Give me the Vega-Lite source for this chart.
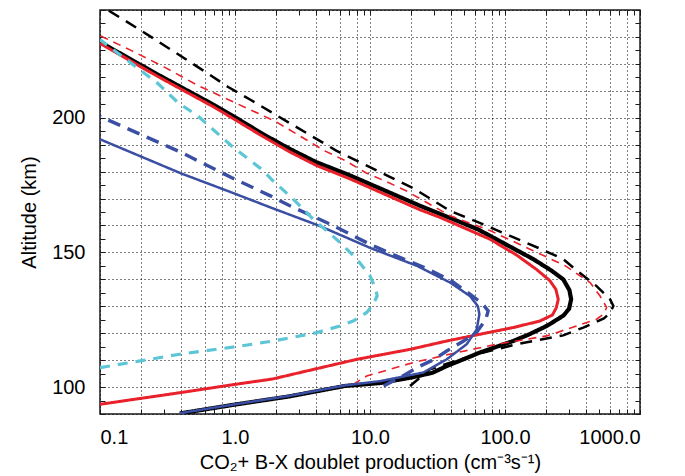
{
  "$schema": "https://vega.github.io/schema/vega-lite/v6.json",
  "autosize": {"type": "none"},
  "padding": {"left": 100, "top": 10, "right": 45, "bottom": 62},
  "width": 540,
  "height": 404,
  "background": "white",
  "config": {
    "view": {"stroke": "#1a1a1a", "strokeWidth": 1.5},
    "axis": {
      "labelFont": "Liberation Sans", "labelFontSize": 20, "labelColor": "black",
      "titleFont": "Liberation Sans", "titleFontSize": 20, "titleFontWeight": "normal", "titleColor": "black",
      "domain": false, "tickColor": "#1a1a1a", "tickWidth": 1
    }
  },
  "data": {"values": [
    {"s":"k","x":0.1,"alt":228.1},{"s":"k","x":0.264,"alt":216.2},{"s":"k","x":0.707,"alt":204.6},{"s":"k","x":1.0,"alt":200.2},{"s":"k","x":1.6,"alt":194},{"s":"k","x":2.55,"alt":188.4},{"s":"k","x":4.0,"alt":183.5},{"s":"k","x":7.1,"alt":178.6},{"s":"k","x":23.5,"alt":167.3},{"s":"k","x":62.8,"alt":158.6},{"s":"k","x":103,"alt":152.8},{"s":"k","x":162,"alt":147.5},{"s":"k","x":220,"alt":143.3},{"s":"k","x":270,"alt":140},{"s":"k","x":300,"alt":136},{"s":"k","x":309,"alt":132.6},{"s":"k","x":298,"alt":129},{"s":"k","x":270,"alt":126.5},{"s":"k","x":230,"alt":124.3},{"s":"k","x":204,"alt":122.7},{"s":"k","x":150,"alt":119.5},{"s":"k","x":115,"alt":117.1},{"s":"k","x":65,"alt":112.8},{"s":"k","x":45,"alt":109.5},{"s":"k","x":37,"alt":107.8},{"s":"k","x":29,"alt":105.3},{"s":"k","x":20,"alt":103.5},{"s":"k","x":11.9,"alt":101.5},{"s":"k","x":6.5,"alt":100.4},{"s":"k","x":2.5,"alt":96.5},{"s":"k","x":1.0,"alt":93.5},{"s":"k","x":0.39,"alt":90.2},
    {"s":"r","x":0.1,"alt":227.6},{"s":"r","x":0.264,"alt":215.5},{"s":"r","x":0.707,"alt":203.8},{"s":"r","x":1.0,"alt":199.3},{"s":"r","x":1.6,"alt":193.1},{"s":"r","x":2.55,"alt":187.3},{"s":"r","x":4.0,"alt":182.3},{"s":"r","x":7.1,"alt":177.3},{"s":"r","x":23.5,"alt":165.8},{"s":"r","x":33,"alt":163},{"s":"r","x":77.4,"alt":154.9},{"s":"r","x":122,"alt":149},{"s":"r","x":171,"alt":143.7},{"s":"r","x":215,"alt":139.5},{"s":"r","x":238,"alt":136.3},{"s":"r","x":248,"alt":132.6},{"s":"r","x":240,"alt":129.5},{"s":"r","x":225,"alt":126.8},{"s":"r","x":181,"alt":124.5},{"s":"r","x":115,"alt":122.1},{"s":"r","x":65,"alt":119.6},{"s":"r","x":37,"alt":117.1},{"s":"r","x":19.8,"alt":114},{"s":"r","x":8,"alt":110.3},{"s":"r","x":4,"alt":106.8},{"s":"r","x":1.9,"alt":103},{"s":"r","x":1.0,"alt":101},{"s":"r","x":0.39,"alt":97.9},{"s":"r","x":0.1,"alt":93.6},
    {"s":"kd","x":0.115,"alt":239.9},{"s":"kd","x":0.191,"alt":233.1},{"s":"kd","x":0.357,"alt":224.4},{"s":"kd","x":0.63,"alt":216.4},{"s":"kd","x":0.89,"alt":211.4},{"s":"kd","x":1.32,"alt":206.5},{"s":"kd","x":2.0,"alt":201.1},{"s":"kd","x":5.66,"alt":187.7},{"s":"kd","x":9.2,"alt":182.5},{"s":"kd","x":13.9,"alt":178.1},{"s":"kd","x":21,"alt":173.8},{"s":"kd","x":39.2,"alt":165.4},{"s":"kd","x":73,"alt":159.9},{"s":"kd","x":109,"alt":156.1},{"s":"kd","x":180,"alt":151.5},{"s":"kd","x":270,"alt":147.5},{"s":"kd","x":340,"alt":143.3},{"s":"kd","x":477,"alt":137.5},{"s":"kd","x":600,"alt":132.6},{"s":"kd","x":635,"alt":130.1},{"s":"kd","x":600,"alt":127.5},{"s":"kd","x":540,"alt":125.5},{"s":"kd","x":380,"alt":122.1},{"s":"kd","x":270,"alt":119.2},{"s":"kd","x":122,"alt":115.9},{"s":"kd","x":61.7,"alt":112.2},{"s":"kd","x":27.8,"alt":106.6},{"s":"kd","x":19.8,"alt":100.4},
    {"s":"rd","x":0.1,"alt":230.5},{"s":"rd","x":0.17,"alt":225},{"s":"rd","x":0.3,"alt":218.8},{"s":"rd","x":0.53,"alt":212},{"s":"rd","x":0.94,"alt":206.2},{"s":"rd","x":2.0,"alt":198.6},{"s":"rd","x":4.7,"alt":187.5},{"s":"rd","x":6.6,"alt":184},{"s":"rd","x":9.3,"alt":179.6},{"s":"rd","x":13.2,"alt":176.3},{"s":"rd","x":18.5,"alt":172.9},{"s":"rd","x":39.2,"alt":163.6},{"s":"rd","x":77.4,"alt":158.1},{"s":"rd","x":153,"alt":151.2},{"s":"rd","x":280,"alt":145},{"s":"rd","x":427,"alt":138.8},{"s":"rd","x":506,"alt":133.8},{"s":"rd","x":566,"alt":129.5},{"s":"rd","x":535,"alt":127},{"s":"rd","x":477,"alt":125.2},{"s":"rd","x":330,"alt":122.5},{"s":"rd","x":204,"alt":119},{"s":"rd","x":86.9,"alt":115.9},{"s":"rd","x":43.9,"alt":112.8},{"s":"rd","x":20.9,"alt":109.1},{"s":"rd","x":9.46,"alt":104.1},{"s":"rd","x":7.5,"alt":101},
    {"s":"b","x":0.1,"alt":192},{"s":"b","x":0.4,"alt":179.3},{"s":"b","x":0.94,"alt":172.3},{"s":"b","x":1.83,"alt":166.7},{"s":"b","x":4.2,"alt":159.9},{"s":"b","x":10,"alt":151.7},{"s":"b","x":22.3,"alt":145},{"s":"b","x":39.2,"alt":138.8},{"s":"b","x":55,"alt":133.8},{"s":"b","x":63,"alt":130},{"s":"b","x":64.6,"alt":127},{"s":"b","x":61.7,"alt":121.4},{"s":"b","x":52,"alt":115.9},{"s":"b","x":37,"alt":110.3},{"s":"b","x":24.8,"alt":105.4},{"s":"b","x":11.9,"alt":102.2},{"s":"b","x":6.5,"alt":100.6},{"s":"b","x":2.5,"alt":96.7},{"s":"b","x":1.0,"alt":93.6},{"s":"b","x":0.39,"alt":90.3},
    {"s":"bd","x":0.1,"alt":200.5},{"s":"bd","x":0.4,"alt":187.1},{"s":"bd","x":0.94,"alt":177.8},{"s":"bd","x":1.83,"alt":171},{"s":"bd","x":2.55,"alt":167.3},{"s":"bd","x":5.06,"alt":160.5},{"s":"bd","x":7.1,"alt":156.8},{"s":"bd","x":10,"alt":153},{"s":"bd","x":17.8,"alt":147.5},{"s":"bd","x":25,"alt":144.5},{"s":"bd","x":40,"alt":139.5},{"s":"bd","x":55,"alt":134.5},{"s":"bd","x":68,"alt":131},{"s":"bd","x":75,"alt":128.3},{"s":"bd","x":72,"alt":125},{"s":"bd","x":62,"alt":120.5},{"s":"bd","x":49,"alt":117},{"s":"bd","x":37,"alt":113.4},{"s":"bd","x":30,"alt":110.3},{"s":"bd","x":23.5,"alt":107.8},{"s":"bd","x":18,"alt":104.5},{"s":"bd","x":12.6,"alt":100.4},
    {"s":"c","x":0.1,"alt":229},{"s":"c","x":0.2,"alt":217.6},{"s":"c","x":0.27,"alt":212.6},{"s":"c","x":0.38,"alt":205.5},{"s":"c","x":0.53,"alt":200.7},{"s":"c","x":0.94,"alt":189.6},{"s":"c","x":1.57,"alt":180.9},{"s":"c","x":1.92,"alt":176.5},{"s":"c","x":2.7,"alt":169.8},{"s":"c","x":3.8,"alt":162.3},{"s":"c","x":6.0,"alt":153.7},{"s":"c","x":8.0,"alt":147.5},{"s":"c","x":10,"alt":141.3},{"s":"c","x":11,"alt":136.5},{"s":"c","x":11.3,"alt":133.8},{"s":"c","x":10.5,"alt":130.5},{"s":"c","x":9.46,"alt":127.7},{"s":"c","x":7.5,"alt":124.5},{"s":"c","x":6,"alt":122.7},{"s":"c","x":4.03,"alt":120.2},{"s":"c","x":1.92,"alt":117.1},{"s":"c","x":1.09,"alt":115.2},{"s":"c","x":0.39,"alt":112.2},{"s":"c","x":0.198,"alt":109.7},{"s":"c","x":0.1,"alt":107.2}
  ]},
  "resolve": {"axis": {"x": "independent", "y": "independent"}},
  "layer": [
    {
      "mark": {"type": "line", "clip": true, "strokeCap": "butt"},
      "encoding": {
        "x": {"field": "x", "type": "quantitative", "scale": {"type": "log", "domain": [0.1, 1000], "nice": false},
          "axis": {"orient": "bottom", "tickSize": -5, "labelPadding": 18, "titlePadding": 5,
            "grid": true, "gridDash": [1, 3], "gridColor": "black", "gridWidth": 1,
            "gridOpacity": {"condition": {"test": "indexof([1,2,4,6,8], round(datum.value / pow(10, floor(log(datum.value)/LN10 + 0.000001)))) >= 0", "value": 1}, "value": 0},
            "labelExpr": "abs(log(datum.value)/LN10 - round(log(datum.value)/LN10)) < 0.001 ? format(datum.value, '.1f') : ''",
            "title": "CO₂+ B-X doublet production (cm⁻³s⁻¹)",
            "values": [0.1,0.2,0.3,0.4,0.5,0.6,0.7,0.8,0.9,1,2,3,4,5,6,7,8,9,10,20,30,40,50,60,70,80,90,100,200,300,400,500,600,700,800,900,1000]}},
        "y": {"field": "alt", "type": "quantitative", "scale": {"domain": [90, 240], "nice": false, "zero": false},
          "axis": {"orient": "left", "tickSize": -5, "labelPadding": 20, "titlePadding": 12,
            "grid": true, "gridDash": [1, 3], "gridColor": "black", "gridWidth": 1,
            "gridOpacity": {"condition": {"test": "datum.value % 10 == 0", "value": 1}, "value": 0},
            "labelExpr": "datum.value % 50 == 0 ? datum.label : ''",
            "title": "Altitude (km)",
            "values": [90,95,100,105,110,115,120,125,130,135,140,145,150,155,160,165,170,175,180,185,190,195,200,205,210,215,220,225,230,235,240]}},
        "order": {"field": "alt", "type": "quantitative"},
        "color": {"field": "s", "type": "nominal", "legend": null,
          "scale": {"domain": ["k","r","kd","rd","b","bd","c"], "range": ["#000000","#e8212b","#000000","#e8212b","#3a4fa3","#3a4fa3","#5cc6d6"]}},
        "strokeDash": {"field": "s", "type": "nominal", "legend": null,
          "scale": {"domain": ["k","r","kd","rd","b","bd","c"], "range": [[1,0],[1,0],[12,8],[8,6],[1,0],[13,8],[10,8]]}},
        "strokeWidth": {"field": "s", "type": "nominal", "legend": null,
          "scale": {"type": "ordinal", "domain": ["k","r","kd","rd","b","bd","c"], "range": [4.2,3,2.5,1.6,2.5,3.4,3.2]}}
      }
    },
    {
      "mark": {"type": "point", "opacity": 0},
      "encoding": {
        "x": {"field": "x", "type": "quantitative",
          "axis": {"orient": "top", "grid": false, "labels": false, "title": null, "tickSize": -5,
            "values": [0.1,0.2,0.3,0.4,0.5,0.6,0.7,0.8,0.9,1,2,3,4,5,6,7,8,9,10,20,30,40,50,60,70,80,90,100,200,300,400,500,600,700,800,900,1000]}},
        "y": {"field": "alt", "type": "quantitative",
          "axis": {"orient": "right", "grid": false, "labels": false, "title": null, "tickSize": -5,
            "values": [90,95,100,105,110,115,120,125,130,135,140,145,150,155,160,165,170,175,180,185,190,195,200,205,210,215,220,225,230,235,240]}}
      }
    }
  ]
}
